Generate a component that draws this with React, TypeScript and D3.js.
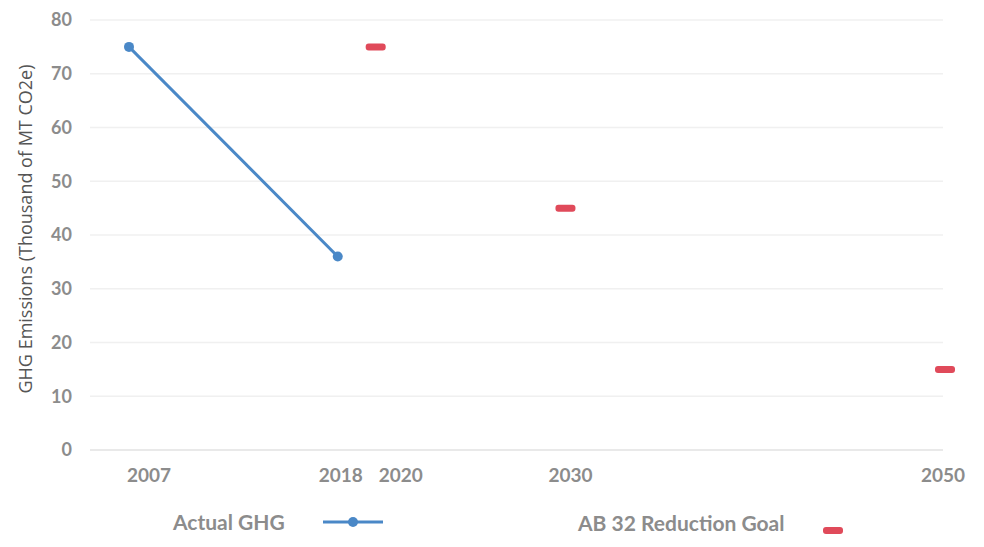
import React from 'react';
import * as d3 from 'd3';

const actualYears = [2007, 2018];
const actualValues = [75, 36];
const goalYears = [2020, 2030, 2050];
const goalValues = [75, 45, 15];
const xTickYears = [2007, 2018, 2020, 2030, 2050];
const yTicks = [0, 10, 20, 30, 40, 50, 60, 70, 80];

const width = 984;
const height = 547;
const plot = { left: 90, right: 943, top: 20, bottom: 450 };

const gray = '#8c8c8c';

const App: React.FC = () => {
  const x = d3.scaleLinear().domain([2007, 2050]).range([129, 945]);
  const y = d3.scaleLinear().domain([0, 80]).range([plot.bottom, plot.top]);

  const actual = actualYears.map((yr, i) => ({ yr, v: actualValues[i] }));
  const goals = goalYears.map((yr, i) => ({ yr, v: goalValues[i] }));

  const line = d3.line<{ yr: number; v: number }>()
    .x(d => x(d.yr))
    .y(d => y(d.v));

  // the source chart pushes a couple of tick labels sideways so they don't collide
  const labelNudge: Record<number, number> = { 2007: 20, 2018: 3, 2020: 25, 2030: 5, 2050: -2 };

  return (
    <svg width={width} height={height} style={{ position: 'absolute', left: 0, top: 0, background: '#fff' }}
      fontFamily="Lato, 'Open Sans', sans-serif">
      {/* gridlines */}
      {yTicks.map(t => (
        <line key={t} x1={plot.left} x2={plot.right} y1={y(t)} y2={y(t)}
          stroke={t === 0 ? '#e2e2e2' : '#f0f0f0'} strokeWidth={1.5} />
      ))}

      {/* y tick labels */}
      {yTicks.map(t => (
        <text key={t} x={72} y={y(t)} dy="0.35em" textAnchor="end" fill={gray}
          fontSize={18} fontWeight={700}>{t}</text>
      ))}

      <text transform={`translate(32,229) rotate(-90)`} textAnchor="middle"
        fill="#555" fontSize={18} fontFamily="'Open Sans', sans-serif">
        GHG Emissions (Thousand of MT CO2e)
      </text>

      {/* x tick labels */}
      {xTickYears.map(yr => (
        <text key={yr} x={x(yr) + (labelNudge[yr] || 0)} y={482} textAnchor="middle" fill={gray}
          fontSize={19} fontWeight={700}>{yr}</text>
      ))}

      {/* actual series */}
      <path d={line(actual) || ''} fill="none" stroke="#4a88c7" strokeWidth={3} />
      {actual.map(d => (
        <circle key={d.yr} cx={x(d.yr)} cy={y(d.v)} r={5} fill="#4a88c7" />
      ))}

      {/* goal markers */}
      {goals.map(d => (
        <rect key={d.yr} x={x(d.yr) - 10} y={y(d.v) - 3.5} width={20} height={7} rx={3}
          fill="#e04a5a" />
      ))}

      {/* legend */}
      <text x={173} y={530} fill={gray} fontSize={21} fontWeight={700}>Actual GHG</text>
      <line x1={323} x2={383} y1={522} y2={522} stroke="#4a88c7" strokeWidth={3} />
      <circle cx={353} cy={522} r={5} fill="#4a88c7" />
      <text x={578} y={531} fill={gray} fontSize={21} fontWeight={700}>AB 32 Reduction Goal</text>
      <rect x={823} y={527} width={20} height={7} rx={3} fill="#e04a5a" />
    </svg>
  );
};

export default App;
